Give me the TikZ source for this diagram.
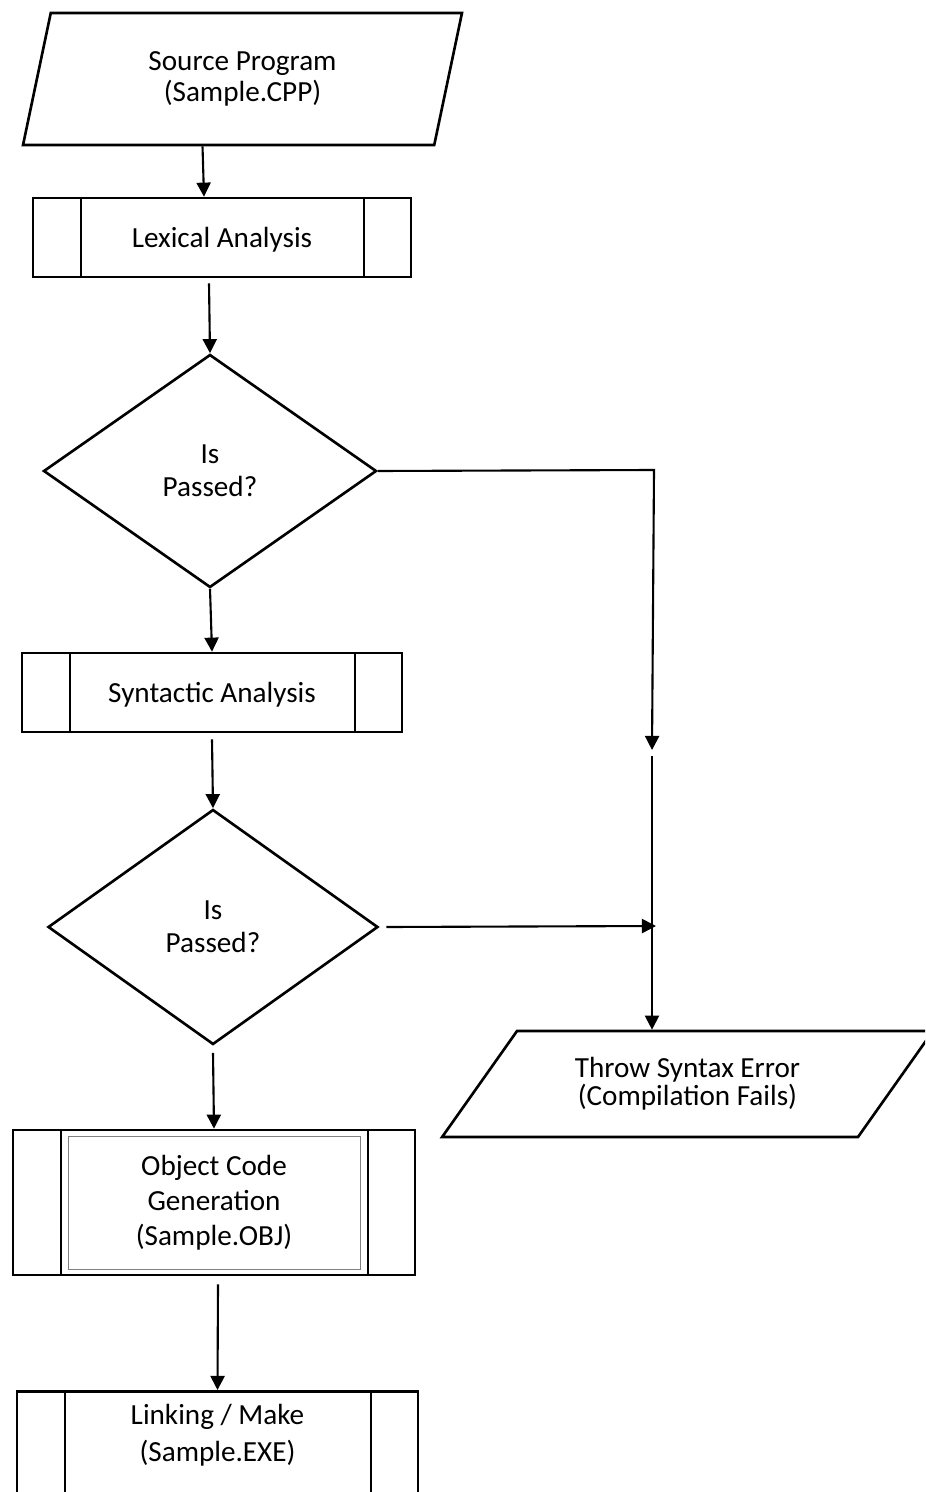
\documentclass[tikz,border=0pt]{standalone}
\usepackage{fontspec}
\setmainfont{Carlito}
\usetikzlibrary{
arrows.meta,
shapes.geometric
}
\tikzset{
  flow/.style={draw, line width=1.5pt, inner sep=0pt, align=center},
  procbox/.style={flow, rectangle, minimum height=15.8mm,
    path picture={
      \draw[line width=1.5pt] ([xshift=9.6mm]path picture bounding box.north west)
        -- ([xshift=9.6mm]path picture bounding box.south west);
      \draw[line width=1.5pt] ([xshift=-9.4mm]path picture bounding box.north east)
        -- ([xshift=-9.4mm]path picture bounding box.south east);
    }},
  iobox/.style={flow, trapezium, trapezium stretches=true},
  decide/.style={flow, diamond},
  arr/.style={-{Triangle[length=8pt,width=8pt]}, line width=1.2pt}
}
\begin{document}
\begin{tikzpicture}[x=0.2mm, y=-0.2mm, font=\fontsize{16.6}{19}\selectfont]
    \path[use as bounding box, clip] (0,0) rectangle (925,1492);

    \node [iobox, trapezium left angle=76, trapezium right angle=104,
      minimum width=87.8mm, minimum height=26.4mm,
      font=\fontsize{16.6}{17.6}\selectfont] (src) at (242.5,79) {Source Program\\(Sample.CPP)};
    \node [procbox, minimum width=75.6mm, text depth=0pt] (lex) at (222,237.5) {Lexical Analysis};
    \draw[arr] ([xshift=-8mm]src.south) -- ([xshift=-3.6mm]lex.north);

    \node [decide, minimum width=66.6mm, minimum height=46.6mm] (d1) at (210,471) {Is\\Passed?};
    \draw[arr] ([xshift=-2.6mm,yshift=-1mm]lex.south) -- (d1.north);

    \node [procbox, minimum width=76mm, text depth=0pt] (syn) at (212,692.5) {Syntactic Analysis};
    \draw[arr] (d1.south) -- (syn.north);

    \node [decide, minimum width=66mm, minimum height=47mm] (d2) at (213,927) {Is\\Passed?};
    \draw[arr] ([yshift=-1.2mm]syn.south) -- (d2.north);

    \node [procbox, minimum width=80.4mm, minimum height=29mm,
      font=\fontsize{16.6}{20}\selectfont] (obj) at (214,1202.5) {Object Code\\Generation\\(Sample.OBJ)};
    \draw[gray, line width=0.5pt] ([shift={(11.4mm,-1.6mm)}]obj.north west)
      rectangle ([shift={(-11.2mm,1.4mm)}]obj.south east);
    \draw[arr] ([yshift=-1.4mm]d2.south) -- (obj.north);

    \node [procbox, minimum width=80.2mm, minimum height=29mm, anchor=north] (link) at (217.5,1390) {};
    \node [font=\fontsize{16.6}{21}\selectfont, align=center] (linktxt) at ([yshift=-9mm]link.north) {Linking / Make\\(Sample.EXE)};
    \draw[arr] ([xshift=0.8mm,yshift=-1.6mm]obj.south) -- (link.north);

    % error branch
    \node [iobox, trapezium left angle=47, trapezium right angle=133,
      minimum width=98.2mm, minimum height=21.2mm,
      font=\fontsize{16.6}{16}\selectfont] (err) at (687.5,1084) {Throw Syntax Error\\(Compilation Fails)};
    \coordinate (j1) at (654,470);
    \coordinate (j2) at (652,750);
    \coordinate (j3) at (652,756);
    \coordinate (j4) at (656,926);
    \draw[arr] (d1.east) -- (j1) -- (j2);
    \draw[arr] (j3) -- (j3 |- err.north);
    \draw[arr] ([xshift=1.4mm]d2.east) -- (j4);
\end{tikzpicture}
\end{document}
